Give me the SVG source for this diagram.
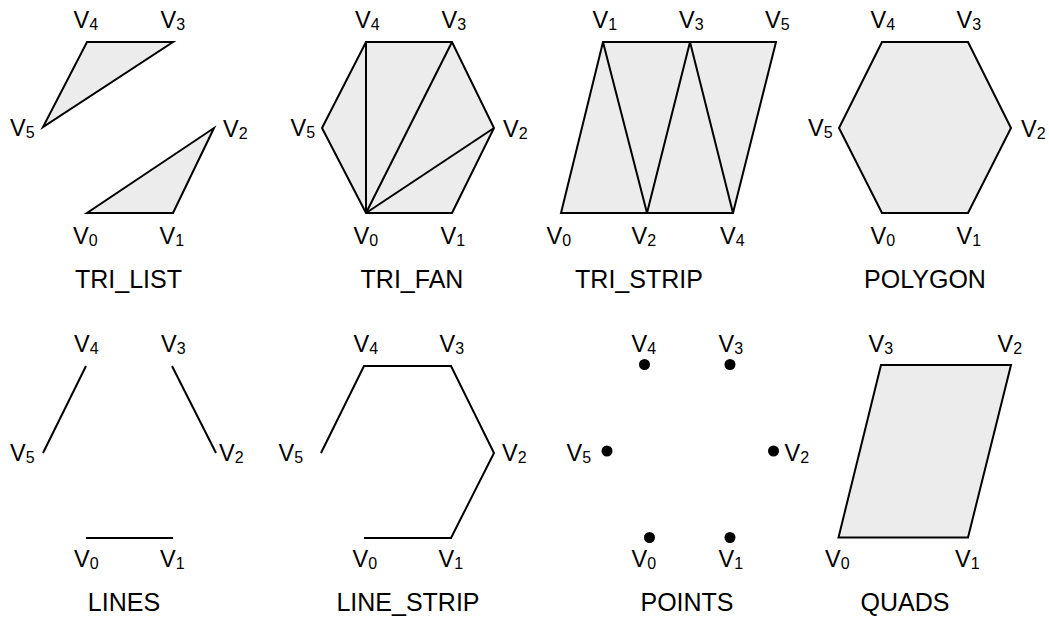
<svg xmlns="http://www.w3.org/2000/svg" width="1049" height="617" viewBox="0 0 1049 617">
<style>
text{font-family:"Liberation Sans",Arial,sans-serif;fill:#000}
.v{font-size:23.5px}
.s{font-size:16px}
.t{font-size:25px;text-anchor:middle}
.sh{fill:#ececec;stroke:#000;stroke-width:2;stroke-linejoin:miter}
.ln{fill:none;stroke:#000;stroke-width:2}
.pt{fill:#000}
</style>
<rect width="1049" height="617" fill="#fff"/>

<g id="tri_list">
<polygon class="sh" points="87,42 173,42 43,127"/>
<polygon class="sh" points="87,213 173,213 214,128"/>
<text class="v" x="73.5" y="28">V<tspan class="s" dy="2">4</tspan></text>
<text class="v" x="160.5" y="28">V<tspan class="s" dy="2">3</tspan></text>
<text class="v" x="10" y="136">V<tspan class="s" dy="2">5</tspan></text>
<text class="v" x="223" y="137">V<tspan class="s" dy="2">2</tspan></text>
<text class="v" x="73" y="244">V<tspan class="s" dy="2">0</tspan></text>
<text class="v" x="159.5" y="244">V<tspan class="s" dy="2">1</tspan></text>
<text class="t" x="128.5" y="288">TRI_LIST</text>
</g>

<g id="tri_fan">
<polygon class="sh" points="366,213 452,213 494,128 452,42 366,42 322,128"/>
<line class="ln" x1="366" y1="213" x2="366" y2="42"/>
<line class="ln" x1="366" y1="213" x2="452" y2="42"/>
<line class="ln" x1="366" y1="213" x2="494" y2="128"/>
<text class="v" x="355" y="28">V<tspan class="s" dy="2">4</tspan></text>
<text class="v" x="441.5" y="28">V<tspan class="s" dy="2">3</tspan></text>
<text class="v" x="290.5" y="136">V<tspan class="s" dy="2">5</tspan></text>
<text class="v" x="503" y="137">V<tspan class="s" dy="2">2</tspan></text>
<text class="v" x="353.5" y="244">V<tspan class="s" dy="2">0</tspan></text>
<text class="v" x="440.5" y="244">V<tspan class="s" dy="2">1</tspan></text>
<text class="t" x="412" y="288">TRI_FAN</text>
</g>

<g id="tri_strip">
<polygon class="sh" points="561,213 733,213 776,42 603,42"/>
<polyline class="ln" points="603,42 647,213 690,42 733,213"/>
<text class="v" x="592.5" y="28">V<tspan class="s" dy="2">1</tspan></text>
<text class="v" x="679" y="28">V<tspan class="s" dy="2">3</tspan></text>
<text class="v" x="765" y="28">V<tspan class="s" dy="2">5</tspan></text>
<text class="v" x="546.5" y="244">V<tspan class="s" dy="2">0</tspan></text>
<text class="v" x="631.5" y="244">V<tspan class="s" dy="2">2</tspan></text>
<text class="v" x="720" y="244">V<tspan class="s" dy="2">4</tspan></text>
<text class="t" x="639" y="288">TRI_STRIP</text>
</g>

<g id="polygon">
<polygon class="sh" points="882,213 968,213 1011,128 968,42 882,42 839,128"/>
<text class="v" x="870.5" y="28">V<tspan class="s" dy="2">4</tspan></text>
<text class="v" x="956.5" y="28">V<tspan class="s" dy="2">3</tspan></text>
<text class="v" x="808" y="136">V<tspan class="s" dy="2">5</tspan></text>
<text class="v" x="1021" y="137">V<tspan class="s" dy="2">2</tspan></text>
<text class="v" x="870.5" y="244">V<tspan class="s" dy="2">0</tspan></text>
<text class="v" x="956.5" y="244">V<tspan class="s" dy="2">1</tspan></text>
<text class="t" x="925" y="288">POLYGON</text>
</g>

<g id="lines">
<line class="ln" x1="86" y1="366" x2="43" y2="453"/>
<line class="ln" x1="172" y1="366" x2="216" y2="453"/>
<line class="ln" x1="86" y1="538" x2="173" y2="538"/>
<text class="v" x="74" y="352">V<tspan class="s" dy="2">4</tspan></text>
<text class="v" x="161" y="352">V<tspan class="s" dy="2">3</tspan></text>
<text class="v" x="10" y="461">V<tspan class="s" dy="2">5</tspan></text>
<text class="v" x="219" y="461">V<tspan class="s" dy="2">2</tspan></text>
<text class="v" x="74" y="567">V<tspan class="s" dy="2">0</tspan></text>
<text class="v" x="160" y="567">V<tspan class="s" dy="2">1</tspan></text>
<text class="t" x="124" y="611">LINES</text>
</g>

<g id="line_strip">
<polyline class="ln" points="364,538 451,538 494,453 451,366 364,366 321,453"/>
<text class="v" x="353.5" y="352">V<tspan class="s" dy="2">4</tspan></text>
<text class="v" x="439.5" y="352">V<tspan class="s" dy="2">3</tspan></text>
<text class="v" x="278.5" y="461">V<tspan class="s" dy="2">5</tspan></text>
<text class="v" x="502" y="461">V<tspan class="s" dy="2">2</tspan></text>
<text class="v" x="352.5" y="567">V<tspan class="s" dy="2">0</tspan></text>
<text class="v" x="438.5" y="567">V<tspan class="s" dy="2">1</tspan></text>
<text class="t" x="408" y="611">LINE_STRIP</text>
</g>

<g id="points">
<circle class="pt" cx="644.5" cy="364.5" r="5.5"/>
<circle class="pt" cx="730" cy="364.5" r="5.5"/>
<circle class="pt" cx="607" cy="451" r="5.5"/>
<circle class="pt" cx="773.5" cy="451" r="5.5"/>
<circle class="pt" cx="649.5" cy="537.5" r="5.5"/>
<circle class="pt" cx="730" cy="537.5" r="5.5"/>
<text class="v" x="631.5" y="352">V<tspan class="s" dy="2">4</tspan></text>
<text class="v" x="718.5" y="352">V<tspan class="s" dy="2">3</tspan></text>
<text class="v" x="566.5" y="461">V<tspan class="s" dy="2">5</tspan></text>
<text class="v" x="784.5" y="461">V<tspan class="s" dy="2">2</tspan></text>
<text class="v" x="631.5" y="567">V<tspan class="s" dy="2">0</tspan></text>
<text class="v" x="718.5" y="567">V<tspan class="s" dy="2">1</tspan></text>
<text class="t" x="687" y="611">POINTS</text>
</g>

<g id="quads">
<polygon class="sh" points="838.5,537.5 968,537.5 1011,365 881,365"/>
<text class="v" x="868.5" y="352">V<tspan class="s" dy="2">3</tspan></text>
<text class="v" x="997.5" y="352">V<tspan class="s" dy="2">2</tspan></text>
<text class="v" x="825" y="567">V<tspan class="s" dy="2">0</tspan></text>
<text class="v" x="955" y="567">V<tspan class="s" dy="2">1</tspan></text>
<text class="t" x="905" y="611">QUADS</text>
</g>
</svg>
